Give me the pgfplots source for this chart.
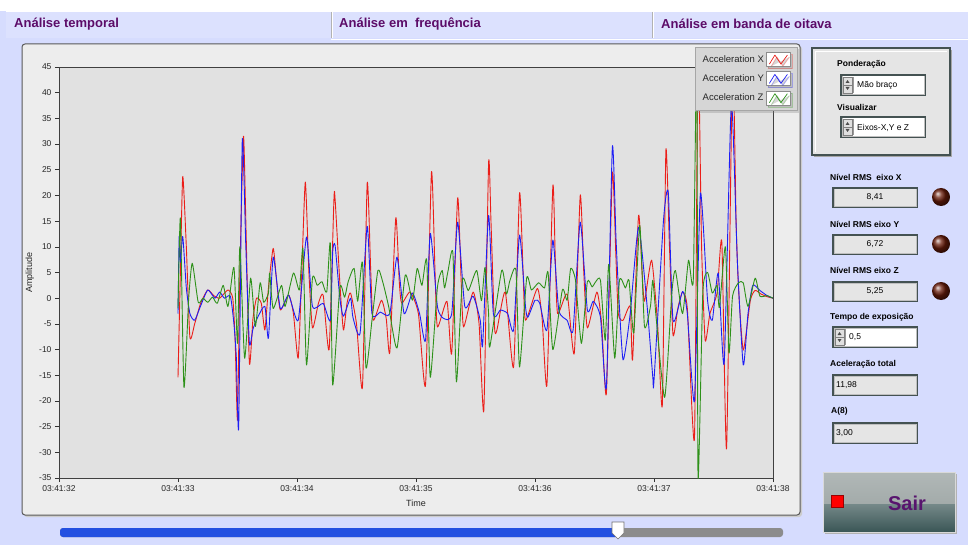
\documentclass[border=0pt]{standalone}
\usepackage{fontspec}
\setmainfont{Liberation Sans}
\usepackage{pgfplots}
\pgfplotsset{compat=1.18}
\usetikzlibrary{shadows}
\definecolor{lav}{RGB}{214,220,254}
\definecolor{panel}{RGB}{237,237,237}
\definecolor{plotbg}{RGB}{225,225,225}
\definecolor{tabtxt}{RGB}{92,12,104}
\definecolor{cX}{RGB}{235,30,25}
\definecolor{cY}{RGB}{30,30,245}
\definecolor{cZ}{RGB}{45,145,25}
\definecolor{frame}{RGB}{68,82,82}
\definecolor{led}{RGB}{105,28,10}
\definecolor{slblue}{RGB}{35,80,225}
\definecolor{btntop}{RGB}{163,171,170}
\definecolor{btnbot}{RGB}{58,86,86}
\definecolor{sairtxt}{RGB}{88,20,110}
\newcommand{\sunken}[5]{%
  \fill[frame] (#1,#2) rectangle (#3,#4);
  \fill[black!25] (#1+2,#2+2) rectangle (#3-1,#4-1);
  \fill[#5] (#1+2.5,#2+2.5) rectangle (#3-2,#4-2);}
\newcommand{\arrows}[3]{% x1 y1 y2
  \fill[black!12] (#1+3,#2+3) rectangle (#1+12,#3-3);
  \draw[black!50,line width=0.5pt] (#1+3,#2+3) rectangle (#1+12,#3-3);
  \draw[black!50,line width=0.5pt] (#1+3,{(#2+#3)/2}) -- (#1+12,{(#2+#3)/2});
  \fill[black!70] (#1+5.5,{(#2+#3)/2-2}) -- (#1+9.5,{(#2+#3)/2-2}) -- (#1+7.5,{(#2+#3)/2-5}) -- cycle;
  \fill[black!70] (#1+5.5,{(#2+#3)/2+2}) -- (#1+9.5,{(#2+#3)/2+2}) -- (#1+7.5,{(#2+#3)/2+5}) -- cycle;
  \draw[black!40,line width=0.5pt] (#1+13,#2+3) -- (#1+13,#3-3);}
\begin{document}
\begin{tikzpicture}
\path[use as bounding box] (0pt,0pt) rectangle (968pt,-545pt);
\begin{scope}[x=1pt,y=-1pt]
\fill[lav] (0,0) rectangle (968,545);
\fill[white] (0,0) rectangle (968,11);
% tabs
\fill[lav!85!white] (6,12) rectangle (968,38);
\draw[white,line width=1pt] (6,12) -- (968,12);
\draw[black!30,line width=1pt] (331,12) -- (331,38);
\draw[white,line width=1pt] (332.5,12) -- (332.5,38);
\draw[black!30,line width=1pt] (652,12) -- (652,38);
\draw[white,line width=1pt] (653.5,12) -- (653.5,38);
\draw[white,line width=0.8pt] (331,39) -- (968,39);
\node[anchor=west,text=tabtxt,font=\fontsize{13}{15}\selectfont\bfseries,inner sep=0] at (14,24) {Análise temporal};
\node[anchor=west,text=tabtxt,font=\fontsize{13}{15}\selectfont\bfseries,inner sep=0] at (339,24) {Análise em\ \ frequência};
\node[anchor=west,text=tabtxt,font=\fontsize{13}{15}\selectfont\bfseries,inner sep=0] at (661,24) {Análise em banda de oitava};
% chart frame
\fill[black!20,rounded corners=3pt] (24,46) rectangle (802,517);
\filldraw[fill=panel,draw=black!65,line width=1pt,rounded corners=3pt] (22,44) rectangle (800,515);
% slider
\fill[black!45,rounded corners=3pt] (60,528) rectangle (783,537);
\fill[slblue,rounded corners=3pt] (60,528) rectangle (618,537);
\filldraw[fill=white,draw=black!55,line width=0.6pt] (612,522) -- (624,522) -- (624,533) -- (618,539) -- (612,533) -- cycle;
% right cluster
\fill[black!35] (814,50) rectangle (952,157);
\filldraw[fill=black!10,draw=frame,line width=2pt] (812,48) rectangle (950,155);
\draw[white,line width=0.8pt] (815,152) -- (815,51) -- (947,51);
\node[anchor=west,font=\fontsize{8.5}{10}\selectfont\bfseries,inner sep=0] at (837,64) {Ponderação};
\sunken{840}{74}{926}{96}{white}
\arrows{840}{74}{96}
\node[anchor=west,font=\fontsize{8.5}{10}\selectfont,inner sep=0] at (857,85.5) {Mão braço};
\node[anchor=west,font=\fontsize{8.5}{10}\selectfont\bfseries,inner sep=0] at (837,107) {Visualizar};
\sunken{840}{116}{926}{138}{white}
\arrows{840}{116}{138}
\node[anchor=west,font=\fontsize{8.5}{10}\selectfont,inner sep=0] at (857,127.5) {Eixos-X,Y e Z};
% indicators
\node[anchor=west,font=\fontsize{8.5}{10}\selectfont\bfseries,inner sep=0] at (830,177) {Nível RMS\ \ eixo X};
\sunken{832}{187}{918}{208}{black!10}
\node[font=\fontsize{8.5}{10}\selectfont,inner sep=0] at (875,197.5) {8,41};
\shade[ball color=led] (941,197) circle (9);
\node[anchor=west,font=\fontsize{8.5}{10}\selectfont\bfseries,inner sep=0] at (830,224) {Nível RMS eixo Y};
\sunken{832}{234}{918}{255}{black!10}
\node[font=\fontsize{8.5}{10}\selectfont,inner sep=0] at (875,244.5) {6,72};
\shade[ball color=led] (941,244) circle (9);
\node[anchor=west,font=\fontsize{8.5}{10}\selectfont\bfseries,inner sep=0] at (830,270) {Nível RMS eixo Z};
\sunken{832}{281}{918}{302}{black!10}
\node[font=\fontsize{8.5}{10}\selectfont,inner sep=0] at (875,291.5) {5,25};
\shade[ball color=led] (941,291) circle (9);
\node[anchor=west,font=\fontsize{8.5}{10}\selectfont\bfseries,inner sep=0] at (830,317) {Tempo de exposição};
\sunken{832}{326}{918}{348}{white}
\arrows{832}{326}{348}
\node[anchor=west,font=\fontsize{8.5}{10}\selectfont,inner sep=0] at (849,337.5) {0,5};
\node[anchor=west,font=\fontsize{8.5}{10}\selectfont\bfseries,inner sep=0] at (830,364) {Aceleração total};
\sunken{832}{374}{918}{396}{black!10}
\node[anchor=west,font=\fontsize{8.5}{10}\selectfont,inner sep=0] at (836,385.5) {11,98};
\node[anchor=west,font=\fontsize{8.5}{10}\selectfont\bfseries,inner sep=0] at (831,411) {A(8)};
\sunken{832}{422}{918}{444}{black!10}
\node[anchor=west,font=\fontsize{8.5}{10}\selectfont,inner sep=0] at (836,433) {3,00};
% button
\fill[black!30] (825,474) rectangle (957,534);
\shade[top color=btntop!85!white,bottom color=btntop] (823,472) rectangle (955,504);
\shade[top color=btnbot!70!white,bottom color=btnbot] (823,504) rectangle (955,532);
\draw[white!85!black,line width=0.8pt] (823,472) rectangle (955,532);
\filldraw[fill=red,draw=red!60!black,line width=0.6pt] (831,495) rectangle (843,507);
\node[font=\fontsize{20}{22}\selectfont\bfseries,text=sairtxt,inner sep=0] at (907,503) {Sair};
\end{scope}
\begin{axis}[
  at={(59pt,-478pt)}, anchor=south west,
  scale only axis, width=714pt, height=411pt,
  xmin=0, xmax=6, ymin=-35, ymax=45,
  xtick={0,1,2,3,4,5,6},
  xticklabels={03:41:32,03:41:33,03:41:34,03:41:35,03:41:36,03:41:37,03:41:38},
  ytick={-35,-30,...,45},
  xtick pos=bottom, ytick pos=left,
  tick align=outside, major tick length=4pt,
  tick style={black!80, line width=0.6pt},
  axis line style={black!75, line width=0.8pt},
  axis background/.style={fill=plotbg},
  ticklabel style={font=\fontsize{8.5}{10}\selectfont, text=black!85},
  /pgf/number format/assume math mode=true,
  xlabel={Time}, ylabel={Amplitude},
  label style={font=\fontsize{9}{10}\selectfont, text=black!85},
  xlabel style={at={(axis description cs:0.5,-0.061)}, anchor=center},
  ylabel style={at={(axis description cs:-0.041,0.5)}, anchor=center},
  legend style={at={(axis description cs:1.0336,1.0487)}, anchor=north east,
     fill=black!16, draw=black!35, font=\fontsize{9.5}{11}\selectfont,
     row sep=4.5pt, inner xsep=6pt, inner ysep=5pt, text=black!85,
     /tikz/every even column/.append style={column sep=2pt},
     drop shadow={opacity=0.3, shadow xshift=2pt, shadow yshift=-2pt}},
  legend cell align=left, legend plot pos=right,
  legend image code/.code={
    \draw[black!45,fill=white,line width=0.8pt,solid] (0pt,-7pt) rectangle (24pt,7pt);
    \draw[line width=0.7pt,sharp plot] (3pt,-4.5pt) -- (8.5pt,4.5pt) -- (14.5pt,-4.5pt) -- (21pt,4.5pt);
  },
  every axis plot/.append style={line width=0.9pt, line join=round, smooth, tension=0.35},
]
\addplot[cX] coordinates {
(1.00,-15.4) (1.02,5) (1.04,23.7) (1.07,10) (1.10,-7.6) (1.14,-5) (1.19,-1) (1.25,1.6) (1.30,0.5) (1.35,0) (1.42,1.6) (1.46,0) (1.48,-8) (1.50,-23.7) (1.52,5) (1.55,31.5) (1.57,15) (1.60,-12.7) (1.63,-4) (1.66,0) (1.70,-1) (1.73,-6.2) (1.76,2) (1.80,9.7) (1.83,3) (1.86,-2.3) (1.93,0.6) (1.97,-3) (2.01,-11.7) (2.04,5) (2.07,22.6) (2.10,5) (2.13,-5.8) (2.18,-1) (2.22,0.6) (2.27,-10) (2.31,19) (2.32,19.3) (2.36,3) (2.39,-6.2) (2.42,-1) (2.45,1) (2.50,-5) (2.55,-17.3) (2.59,22.4) (2.62,5) (2.64,-4.3) (2.71,-0.4) (2.75,-4) (2.78,-10.5) (2.83,15.6) (2.86,3) (2.88,-1) (2.95,1.2) (3.02,-3) (3.08,-16.9) (3.13,24.5) (3.16,5) (3.18,-5.6) (3.26,-0.6) (3.30,-10.7) (3.35,19.5) (3.38,3) (3.40,-5.6) (3.48,1.2) (3.53,-5) (3.57,-21.8) (3.61,26.3) (3.63,15) (3.66,-5.6) (3.68,-6.2) (3.75,1.2) (3.82,-13.4) (3.87,20.4) (3.90,5) (3.92,-4.3) (4.02,1.9) (4.06,-4) (4.10,-16.9) (4.15,21.8) (4.17,8) (4.19,-3) (4.27,0.8) (4.33,-10.7) (4.38,20) (4.41,5) (4.44,-5.8) (4.52,1.2) (4.56,-5) (4.60,-18.5) (4.65,24.3) (4.68,8) (4.70,-3) (4.74,-4.3) (4.80,-1.6) (4.82,-12) (4.87,16.1) (4.90,5) (4.92,-0.6) (4.98,7.4) (5.03,-5) (5.07,-20.8) (5.10,28.8) (5.13,10) (5.16,-7.2) (5.20,-2) (5.24,1.2) (5.28,-2) (5.34,-27.2) (5.37,48) (5.40,10) (5.43,-8.2) (5.47,-3) (5.53,1) (5.57,10.9) (5.61,-29.2) (5.66,46) (5.69,15) (5.71,2.1) (5.75,-10.1) (5.81,-0.4) (5.85,1.5) (5.90,0.8) (5.95,0.3) (6.00,0)
};
\addlegendentry{Acceleration X}
\addplot[cY] coordinates {
(1.00,-3) (1.01,12) (1.02,7) (1.04,12) (1.07,2) (1.10,-3) (1.14,-4.3) (1.19,-1.5) (1.25,1.6) (1.31,0) (1.35,1.2) (1.39,0) (1.44,0.4) (1.47,-5) (1.49,-11.5) (1.51,-25) (1.54,30.7) (1.57,10) (1.60,-8.8) (1.63,-6) (1.67,-3.7) (1.73,-1.6) (1.76,-7.8) (1.80,8) (1.86,-2) (1.93,0.6) (2.01,-4.3) (2.08,11.9) (2.13,-1.6) (2.22,-1) (2.28,-4.3) (2.30,9) (2.32,10.3) (2.36,0) (2.39,-3.5) (2.45,0) (2.47,-3.7) (2.53,-6.8) (2.59,14) (2.63,-3) (2.70,-2.7) (2.78,-3) (2.84,8) (2.90,-3) (2.97,1) (3.03,-3) (3.08,-8.2) (3.12,12.6) (3.18,-1.6) (3.23,-3.9) (3.30,-3) (3.35,14.8) (3.41,-1.6) (3.48,0.4) (3.54,-4.3) (3.56,-9.1) (3.61,16.1) (3.65,-3) (3.71,-2.3) (3.77,-3) (3.82,-6.2) (3.87,12.3) (3.92,-1.6) (3.94,-3.7) (4.00,-0.4) (4.04,-1) (4.10,-6.2) (4.15,11.3) (4.20,-2.3) (4.27,-4.3) (4.32,-6.2) (4.38,14.8) (4.44,-2.3) (4.49,-0.6) (4.55,-3.7) (4.60,-17.3) (4.65,29.4) (4.68,12) (4.70,2.3) (4.74,-12) (4.80,-3) (4.87,13.8) (4.94,-1) (4.99,-15.4) (5.00,-16) (5.08,15.2) (5.12,20.6) (5.16,-4.3) (5.24,1.3) (5.28,-3) (5.34,-20) (5.39,20.4) (5.45,-0.4) (5.49,-4.3) (5.54,4.9) (5.59,-12.6) (5.65,38) (5.70,7.4) (5.75,-13) (5.79,-3) (5.83,2.5) (5.89,1.5) (5.95,0.5) (6.00,0)
};
\addlegendentry{Acceleration Y}
\addplot[cZ] coordinates {
(1.00,-2) (1.02,15.6) (1.05,-17.3) (1.09,0) (1.12,6.8) (1.17,-0.8) (1.21,0) (1.25,-0.8) (1.29,0.2) (1.33,-1) (1.38,2.5) (1.42,-1.6) (1.47,6) (1.50,-8.8) (1.52,10) (1.56,-11.7) (1.61,3.9) (1.65,-5.5) (1.69,3) (1.72,-0.8) (1.76,1) (1.77,4.9) (1.80,-2) (1.87,2.5) (1.90,-1.6) (1.97,4.9) (2.02,1.6) (2.05,9.7) (2.08,-13) (2.13,3.9) (2.17,2.5) (2.21,3.2) (2.25,1.2) (2.28,10.7) (2.30,-16.9) (2.36,2.1) (2.40,0.2) (2.43,3.2) (2.48,5.8) (2.51,-0.6) (2.55,7) (2.58,-13.6) (2.63,-4.3) (2.68,5.4) (2.72,3.2) (2.77,-1.6) (2.84,-9.7) (2.91,4.5) (2.97,-0.4) (3.01,5.8) (3.05,2.5) (3.09,7.4) (3.12,-15.4) (3.18,2.1) (3.22,5.4) (3.24,2) (3.27,5.4) (3.31,8.8) (3.34,-16.3) (3.39,3.5) (3.44,1.5) (3.51,5.4) (3.55,-0.5) (3.58,6) (3.61,-3) (3.62,-9.5) (3.72,5.4) (3.76,0.8) (3.79,3.5) (3.84,5.4) (3.87,-13.4) (3.93,3.9) (3.97,1.6) (4.03,3) (4.08,2) (4.11,5) (4.15,-10) (4.23,1.6) (4.27,-0.4) (4.30,5.8) (4.34,3.5) (4.39,-8.8) (4.44,3.2) (4.48,2.2) (4.51,3.2) (4.55,3.5) (4.59,-8.2) (4.62,6.6) (4.67,-11.7) (4.71,3.5) (4.76,2) (4.79,3.5) (4.83,-6.8) (4.88,14.2) (4.92,-5.5) (4.97,-1.6) (4.99,3.5) (5.02,-4.3) (5.09,-19.3) (5.15,1) (5.18,5.4) (5.24,-3) (5.29,7.4) (5.33,3.5) (5.36,48) (5.37,-34.8) (5.41,1) (5.45,5) (5.49,1) (5.53,2.5) (5.55,-1.8) (5.60,10) (5.63,-10.7) (5.66,0.4) (5.71,3) (5.75,3) (5.79,-1.6) (5.85,3.9) (5.89,0.4) (5.95,0.5) (6.00,0)
};
\addlegendentry{Acceleration Z}
\end{axis}
\end{tikzpicture}
\end{document}
